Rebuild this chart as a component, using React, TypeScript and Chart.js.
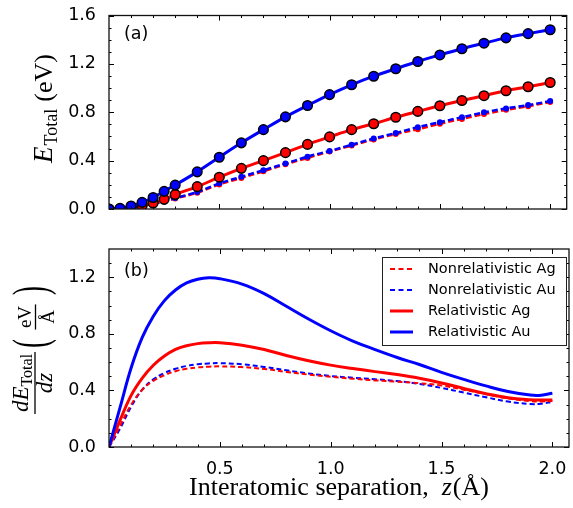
import React, { useEffect, useRef } from 'react';
import { Chart, registerables } from 'chart.js';
Chart.register(...registerables);

// ---------- data ----------
const topX = [0, 0.05, 0.1, 0.15, 0.2, 0.25, 0.3, 0.4, 0.5, 0.6, 0.7, 0.8, 0.9, 1.0, 1.1, 1.2, 1.3, 1.4, 1.5, 1.6, 1.7, 1.8, 1.9, 2.0];
const topRelAu = [0, 0.005, 0.025, 0.055, 0.095, 0.146, 0.198, 0.307, 0.428, 0.547, 0.656, 0.762, 0.856, 0.946, 1.027, 1.098, 1.16, 1.22, 1.274, 1.325, 1.371, 1.415, 1.45, 1.482];
const topRelAg = [0, 0.002, 0.01, 0.027, 0.05, 0.08, 0.12, 0.185, 0.263, 0.336, 0.4, 0.466, 0.534, 0.596, 0.656, 0.705, 0.759, 0.807, 0.854, 0.897, 0.937, 0.978, 1.011, 1.046];
const topNonAu = [0, 0.002, 0.01, 0.025, 0.045, 0.065, 0.09, 0.141, 0.212, 0.266, 0.321, 0.376, 0.433, 0.48, 0.531, 0.583, 0.628, 0.677, 0.718, 0.759, 0.799, 0.832, 0.859, 0.892];
const topNonAg = [0, 0.002, 0.01, 0.024, 0.043, 0.062, 0.086, 0.135, 0.203, 0.257, 0.312, 0.37, 0.422, 0.475, 0.525, 0.575, 0.62, 0.66, 0.705, 0.745, 0.785, 0.82, 0.85, 0.885];

const botX = [0, 0.05, 0.1, 0.15, 0.2, 0.25, 0.3, 0.35, 0.4, 0.45, 0.5, 0.6, 0.7, 0.8, 0.9, 1.0, 1.1, 1.2, 1.3, 1.4, 1.5, 1.6, 1.7, 1.8, 1.9, 1.95, 2.0];
const botRelAu = [0, 0.28, 0.56, 0.775, 0.925, 1.035, 1.11, 1.16, 1.186, 1.196, 1.19, 1.152, 1.085, 0.995, 0.905, 0.822, 0.749, 0.689, 0.633, 0.583, 0.528, 0.478, 0.432, 0.392, 0.367, 0.366, 0.38];
const botRelAg = [0, 0.19, 0.365, 0.487, 0.578, 0.643, 0.69, 0.716, 0.731, 0.737, 0.737, 0.72, 0.69, 0.647, 0.61, 0.579, 0.555, 0.533, 0.512, 0.486, 0.453, 0.414, 0.377, 0.348, 0.334, 0.332, 0.333];
const botNonAu = [0, 0.13, 0.285, 0.405, 0.478, 0.523, 0.553, 0.573, 0.585, 0.591, 0.593, 0.585, 0.566, 0.542, 0.52, 0.502, 0.49, 0.479, 0.466, 0.446, 0.418, 0.385, 0.352, 0.321, 0.304, 0.306, 0.319];
const botNonAg = [0, 0.15, 0.3, 0.405, 0.468, 0.508, 0.536, 0.553, 0.563, 0.568, 0.57, 0.565, 0.552, 0.531, 0.512, 0.497, 0.483, 0.471, 0.462, 0.451, 0.435, 0.405, 0.375, 0.344, 0.324, 0.322, 0.326];

const legendLabels = ['Nonrelativistic Ag', 'Nonrelativistic Au', 'Relativistic Ag', 'Relativistic Au'];

const xMajorTicks = [0.5, 1.0, 1.5, 2.0];
const xMinorTicks = [0.1, 0.2, 0.3, 0.4, 0.6, 0.7, 0.8, 0.9, 1.1, 1.2, 1.3, 1.4, 1.6, 1.7, 1.8, 1.9];
const topYMajor = [0, 0.4, 0.8, 1.2, 1.6];
const topYMinor = [0.1, 0.2, 0.3, 0.5, 0.6, 0.7, 0.9, 1.0, 1.1, 1.3, 1.4, 1.5];
const botYMajor = [0, 0.4, 0.8, 1.2];
const botYMinor = [0.1, 0.2, 0.3, 0.5, 0.6, 0.7, 0.9, 1.0, 1.1, 1.3];

const RED = '#ff0000';
const BLUE = '#0000ff';
const SERIF = '"Liberation Serif", "Times New Roman", serif';
const SANS = '"DejaVu Sans", sans-serif';

const pts = (xs: number[], ys: number[]) => xs.map((x, i) => ({ x, y: ys[i] }));

function rot(ctx: CanvasRenderingContext2D, text: string, sx: number, sy: number, font: string, align: CanvasTextAlign = 'left', vscale = 1) {
  ctx.save();
  ctx.translate(sx, sy);
  ctx.rotate(-Math.PI / 2);
  if (vscale !== 1) ctx.scale(1, vscale);
  ctx.font = font;
  ctx.textAlign = align;
  ctx.textBaseline = 'alphabetic';
  ctx.fillStyle = '#000';
  ctx.fillText(text, 0, 0);
  ctx.restore();
}

function drawFrame(chart: any, yMajor: number[], yMinor: number[]) {
  const { ctx, chartArea: a, scales } = chart;
  const xs = scales.x, ys = scales.y;
  ctx.save();
  ctx.strokeStyle = '#000';
  ctx.lineWidth = 1;
  const tickX = (v: number, len: number) => {
    const p = Math.round(xs.getPixelForValue(v)) + 0.5;
    ctx.beginPath();
    ctx.moveTo(p, a.bottom); ctx.lineTo(p, a.bottom - len);
    ctx.moveTo(p, a.top); ctx.lineTo(p, a.top + len);
    ctx.stroke();
  };
  const tickY = (v: number, len: number) => {
    const p = Math.round(ys.getPixelForValue(v)) + 0.5;
    ctx.beginPath();
    ctx.moveTo(a.left, p); ctx.lineTo(a.left + len, p);
    ctx.moveTo(a.right, p); ctx.lineTo(a.right - len, p);
    ctx.stroke();
  };
  xMajorTicks.forEach(v => tickX(v, 5));
  xMinorTicks.forEach(v => tickX(v, 2.5));
  yMajor.forEach(v => tickY(v, 5));
  yMinor.forEach(v => tickY(v, 2.5));
  ctx.lineWidth = 1.3;
  ctx.strokeStyle = '#111';
  ctx.strokeRect(a.left, a.top, a.right - a.left, a.bottom - a.top);
  ctx.restore();
}

function panelLabel(chart: any, text: string, x: number, y: number) {
  const ctx = chart.ctx;
  ctx.save();
  ctx.font = '17.5px ' + SANS;
  ctx.fillStyle = '#000';
  ctx.textAlign = 'left';
  ctx.textBaseline = 'middle';
  ctx.fillText(text, x, y);
  ctx.restore();
}

const tickFont = { family: 'DejaVu Sans', size: 17.5 };

function topConfig(): any {
  return {
    type: 'line',
    data: {
      datasets: [
        { label: 'Relativistic Au', data: pts(topX, topRelAu), borderColor: BLUE, borderWidth: 3, pointRadius: 4.8, pointBackgroundColor: BLUE, pointBorderColor: '#000', pointBorderWidth: 1.5, cubicInterpolationMode: 'monotone', order: 1 },
        { label: 'Relativistic Ag', data: pts(topX, topRelAg), borderColor: RED, borderWidth: 3, pointRadius: 4.8, pointBackgroundColor: RED, pointBorderColor: '#000', pointBorderWidth: 1.5, cubicInterpolationMode: 'monotone', order: 2 },
        { label: 'Nonrelativistic Au', data: pts(topX, topNonAu), borderColor: BLUE, borderWidth: 2.5, borderDash: [6, 3], pointRadius: 3, pointBackgroundColor: BLUE, pointBorderWidth: 0, cubicInterpolationMode: 'monotone', order: 3 },
        { label: 'Nonrelativistic Ag', data: pts(topX, topNonAg), borderColor: RED, borderWidth: 2.5, borderDash: [6, 3], pointRadius: 3, pointBackgroundColor: RED, pointBorderWidth: 0, cubicInterpolationMode: 'monotone', order: 4 },
      ],
    },
    options: {
      animation: false,
      responsive: false,
      devicePixelRatio: 1,
      layout: { padding: { left: 0, right: 4, top: 12, bottom: 0 } },
      plugins: { legend: { display: false }, tooltip: { enabled: false } },
      scales: {
        x: {
          type: 'linear', min: 0, max: 2.075,
          grid: { display: false }, border: { display: false },
          ticks: { display: false },
          afterBuildTicks: (s: any) => { s.ticks = xMajorTicks.map(v => ({ value: v })); },
          afterFit: (s: any) => { s.height = 21; },
        },
        y: {
          type: 'linear', min: 0, max: 1.6,
          grid: { display: false }, border: { display: false },
          ticks: { font: tickFont, color: '#000', padding: 5, callback: (v: any) => Number(v).toFixed(1) },
          afterBuildTicks: (s: any) => { s.ticks = topYMajor.map(v => ({ value: v })); },
          afterFit: (s: any) => { s.width = 109; },
        },
      },
    },
    plugins: [{
      id: 'decorTop',
      afterDatasetsDraw(chart: any) {
        drawFrame(chart, topYMajor, topYMinor);
        panelLabel(chart, '(a)', 124, 34);
        const ctx = chart.ctx;
        const f = '26px ' + SERIF, fi = 'italic 27px ' + SERIF, fs = '18px ' + SERIF;
        ctx.save();
        ctx.font = fi; const wE = ctx.measureText('E').width;
        ctx.font = fs; const wT = ctx.measureText('Total').width;
        ctx.font = f; const wP = ctx.measureText('(eV)').width;
        ctx.restore();
        const gap = 7;
        const total = wE + 1 + wT + gap + wP;
        let sy = 108.5 + total / 2;
        rot(ctx, 'E', 52, sy, fi); sy -= wE + 1;
        rot(ctx, 'Total', 57, sy, fs); sy -= wT + gap;
        rot(ctx, '(eV)', 52, sy, f);
      },
    }],
  };
}

const botLine = { pointRadius: 0, tension: 0.4, cubicInterpolationMode: 'default' };

function botConfig(): any {
  return {
    type: 'line',
    data: {
      datasets: [
        { label: legendLabels[3], data: pts(botX, botRelAu), borderColor: BLUE, borderWidth: 3, ...botLine, order: 1 },
        { label: legendLabels[2], data: pts(botX, botRelAg), borderColor: RED, borderWidth: 3, ...botLine, order: 2 },
        { label: legendLabels[1], data: pts(botX, botNonAu), borderColor: BLUE, borderWidth: 2, borderDash: [5, 3], ...botLine, order: 4 },
        { label: legendLabels[0], data: pts(botX, botNonAg), borderColor: RED, borderWidth: 2, borderDash: [5, 3], ...botLine, order: 3 },
      ],
    },
    options: {
      animation: false,
      responsive: false,
      devicePixelRatio: 1,
      layout: { padding: { left: 0, right: 4, top: 19, bottom: 0 } },
      plugins: { legend: { display: false }, tooltip: { enabled: false } },
      scales: {
        x: {
          type: 'linear', min: 0, max: 2.075,
          grid: { display: false }, border: { display: false },
          ticks: { font: tickFont, color: '#000', padding: 4, maxRotation: 0, callback: (v: any) => Number(v).toFixed(1) },
          afterBuildTicks: (s: any) => { s.ticks = xMajorTicks.map(v => ({ value: v })); },
          afterFit: (s: any) => { s.height = 61; },
        },
        y: {
          type: 'linear', min: 0, max: 1.4,
          grid: { display: false }, border: { display: false },
          ticks: { font: tickFont, color: '#000', padding: 5, callback: (v: any) => Number(v).toFixed(1) },
          afterBuildTicks: (s: any) => { s.ticks = botYMajor.map(v => ({ value: v })); },
          afterFit: (s: any) => { s.width = 109; },
        },
      },
    },
    plugins: [{
      id: 'decorBot',
      afterDatasetsDraw(chart: any) {
        drawFrame(chart, botYMajor, botYMinor);
        panelLabel(chart, '(b)', 124, 41.5);
        const ctx = chart.ctx;

        // legend
        const lx = 382, ly = 27, lw = 184, lh = 88;
        ctx.save();
        ctx.fillStyle = '#fff';
        ctx.fillRect(lx, ly, lw, lh);
        ctx.strokeStyle = '#222';
        ctx.lineWidth = 1;
        ctx.strokeRect(lx + 0.5, ly + 0.5, lw, lh);
        const entries = [
          { label: legendLabels[0], color: RED, dash: [5, 3.5], w: 2 },
          { label: legendLabels[1], color: BLUE, dash: [5, 3.5], w: 2 },
          { label: legendLabels[2], color: RED, dash: [], w: 3 },
          { label: legendLabels[3], color: BLUE, dash: [], w: 3 },
        ];
        entries.forEach((e, i) => {
          const y = 39 + i * 21;
          ctx.beginPath();
          ctx.setLineDash(e.dash);
          ctx.strokeStyle = e.color;
          ctx.lineWidth = e.w;
          ctx.moveTo(390, y); ctx.lineTo(413, y);
          ctx.stroke();
          ctx.setLineDash([]);
          ctx.font = '14.5px ' + SANS;
          ctx.fillStyle = '#000';
          ctx.textAlign = 'left';
          ctx.textBaseline = 'middle';
          ctx.fillText(e.label, 428, y);
        });
        ctx.restore();

        // x title
        ctx.save();
        const f = '26px ' + SERIF, fi = 'italic 26px ' + SERIF;
        const s1 = 'Interatomic separation,  ', s2 = 'z', s3 = '(Å)';
        ctx.font = f; const w1 = ctx.measureText(s1).width; const w3 = ctx.measureText(s3).width;
        ctx.font = fi; const w2 = ctx.measureText(s2).width;
        const tot = w1 + w2 + 1 + w3;
        let x = (chart.chartArea.left + chart.chartArea.right) / 2 - tot / 2;
        ctx.fillStyle = '#000';
        ctx.textBaseline = 'alphabetic';
        ctx.textAlign = 'left';
        ctx.font = f; ctx.fillText(s1, x, 265); x += w1;
        ctx.font = fi; ctx.fillText(s2, x, 265); x += w2 + 1;
        ctx.font = f; ctx.fillText(s3, x, 265);
        ctx.restore();

        // y title: d E_Total / dz  (eV / Å)
        const fn = 'italic 23px ' + SERIF, fsub = '16px ' + SERIF, fin = '19px ' + SERIF;
        ctx.save();
        ctx.font = fn; const wdE = ctx.measureText('dE').width; const wdz = ctx.measureText('dz').width;
        ctx.font = fsub; const wT = ctx.measureText('Total').width;
        ctx.font = fin; const weV = ctx.measureText('eV').width; const wA = ctx.measureText('Å').width;
        ctx.restore();
        const wN = wdE + wT;
        const L = Math.max(wN, wdz) + 4;
        const yc = 153;
        const sy = yc + wN / 2;
        rot(ctx, 'dE', 28, sy, fn);
        rot(ctx, 'Total', 32, sy - wdE, fsub);
        rot(ctx, 'dz', 52, yc, fn, 'center');
        ctx.save();
        ctx.strokeStyle = '#000'; ctx.lineWidth = 1.3;
        ctx.beginPath(); ctx.moveTo(35, yc + L / 2); ctx.lineTo(35, yc - L / 2); ctx.stroke();
        const yc2 = 87;
        const L2 = Math.max(weV, wA) + 3;
        ctx.beginPath(); ctx.moveTo(35.5, yc2 + L2 / 2); ctx.lineTo(35.5, yc2 - L2 / 2); ctx.stroke();
        ctx.restore();
        rot(ctx, 'eV', 31, yc2, fin, 'center');
        rot(ctx, 'Å', 54, yc2, fin, 'center');
        rot(ctx, '(', 46, 118, '27px ' + SERIF, 'left', 1.8);
        rot(ctx, ')', 46, 65, '27px ' + SERIF, 'left', 1.8);
      },
    }],
  };
}

export default function App() {
  const topRef = useRef<HTMLCanvasElement | null>(null);
  const botRef = useRef<HTMLCanvasElement | null>(null);
  useEffect(() => {
    const c1 = new Chart(topRef.current as HTMLCanvasElement, topConfig());
    const c2 = new Chart(botRef.current as HTMLCanvasElement, botConfig());
    return () => { c1.destroy(); c2.destroy(); };
  }, []);
  return (
    <div style={{ position: 'absolute', left: 0, top: 0, width: 573, height: 508, background: '#fff', overflow: 'hidden' }}>
      <canvas ref={topRef} width={573} height={230} style={{ position: 'absolute', left: 0, top: 0, width: 573, height: 230 }} />
      <canvas ref={botRef} width={573} height={278} style={{ position: 'absolute', left: 0, top: 230, width: 573, height: 278 }} />
    </div>
  );
}
